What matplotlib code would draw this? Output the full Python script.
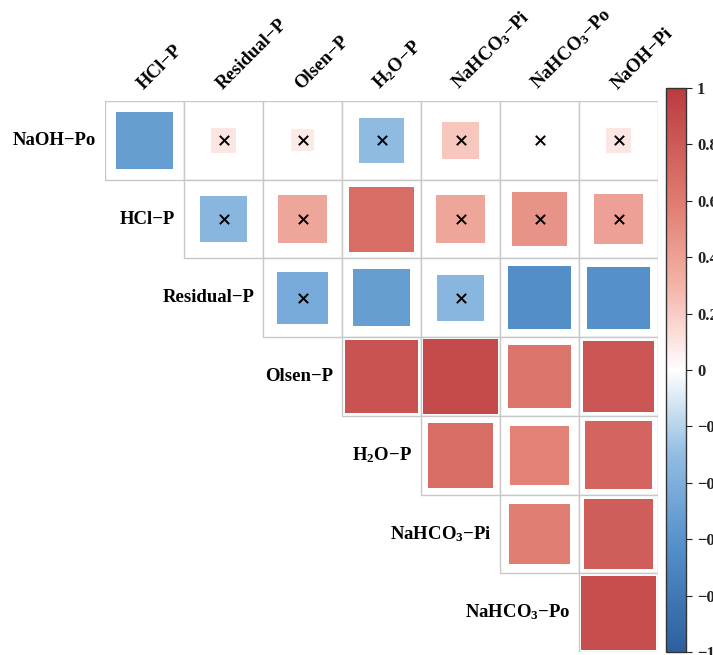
import numpy as np
import matplotlib
matplotlib.use("Agg")
import matplotlib.pyplot as plt
from matplotlib.colors import LinearSegmentedColormap, Normalize
from matplotlib.patches import Rectangle
from matplotlib.cm import ScalarMappable

plt.rcParams['font.family'] = ['Liberation Serif', 'DejaVu Serif']
plt.rcParams['font.weight'] = 'bold'
plt.rcParams['mathtext.fontset'] = 'custom'
plt.rcParams['mathtext.rm'] = 'Liberation Serif:bold'
plt.rcParams['mathtext.it'] = 'Liberation Serif:bold'
plt.rcParams['mathtext.bf'] = 'Liberation Serif:bold'
plt.rcParams['mathtext.default'] = 'rm'

# ---- data ----
col_labels = ["HCl\u2212P", "Residual\u2212P", "Olsen\u2212P", "H$_2$O\u2212P",
              "NaHCO$_3$\u2212Pi", "NaHCO$_3$\u2212Po", "NaOH\u2212Pi"]
row_labels = ["NaOH\u2212Po", "HCl\u2212P", "Residual\u2212P", "Olsen\u2212P",
              "H$_2$O\u2212P", "NaHCO$_3$\u2212Pi", "NaHCO$_3$\u2212Po"]

# row i holds values for columns i..6
vals_naoh_po   = [-0.52, 0.10, 0.08, -0.32, 0.22, 0.03, 0.10]
vals_hcl_p     = [-0.35, 0.37, 0.68, 0.37, 0.47, 0.40]
vals_residual  = [-0.43, -0.52, -0.35, -0.64, -0.62]
vals_olsen     = [0.85, 0.90, 0.64, 0.83]
vals_h2o       = [0.68, 0.56, 0.74]
vals_nahco3_pi = [0.58, 0.78]
vals_nahco3_po = [0.88]

sig_naoh_po   = [True, False, False, False, False, False, False]
sig_hcl_p     = [False, False, True, False, False, False]
sig_residual  = [False, True, False, True, True]
sig_olsen     = [True, True, True, True]
sig_h2o       = [True, True, True]
sig_nahco3_pi = [True, True]
sig_nahco3_po = [True]

rows_vals = [vals_naoh_po, vals_hcl_p, vals_residual, vals_olsen,
             vals_h2o, vals_nahco3_pi, vals_nahco3_po]
rows_sig = [sig_naoh_po, sig_hcl_p, sig_residual, sig_olsen,
            sig_h2o, sig_nahco3_pi, sig_nahco3_po]
cbar_ticks = [1, 0.8, 0.6, 0.4, 0.2, 0, -0.2, -0.4, -0.6, -0.8, -1]

# ---- colormap ----
cmap = LinearSegmentedColormap.from_list("rb", [
    (0.00, "#2d5f9f"),
    (0.20, "#5893cd"),
    (0.35, "#92bde2"),
    (0.50, "#ffffff"),
    (0.65, "#f4b4a8"),
    (0.80, "#e07b70"),
    (1.00, "#bb3b41"),
])
norm = Normalize(-1, 1)

W, H = 713, 655
fig = plt.figure(figsize=(W / 100, H / 100), dpi=100)
ax = fig.add_axes([105 / W, 3 / H, 553 / W, 551 / H])
ax.set_xlim(0, 7)
ax.set_ylim(7, 0)
ax.axis('off')

for i, (vals, sigs) in enumerate(zip(rows_vals, rows_sig)):
    for k, (v, s) in enumerate(zip(vals, sigs)):
        j = i + k
        ax.add_patch(Rectangle((j, i), 1, 1, facecolor='white',
                               edgecolor='#c8c8c8', linewidth=1.0, zorder=1))
        side = np.sqrt(abs(v))
        ax.add_patch(Rectangle((j + 0.5 - side / 2, i + 0.5 - side / 2), side, side,
                               facecolor=cmap(norm(v)), edgecolor='none', zorder=2))
        if not s:
            ax.scatter([j + 0.5], [i + 0.5], marker='x', s=45, color='black',
                       linewidths=1.4, zorder=3)

for j, lab in enumerate(col_labels):
    ax.text(j + 0.52, -0.10, lab, rotation=45, ha='left', va='bottom',
            rotation_mode='anchor', fontsize=13.5, fontweight='bold')

for i, lab in enumerate(row_labels):
    ax.text(i - 0.11, i + 0.5, lab, ha='right', va='center',
            fontsize=13.5, fontweight='bold')

cax = fig.add_axes([666 / W, 3 / H, 20 / W, 564 / H])
sm = ScalarMappable(norm=norm, cmap=cmap)
cb = fig.colorbar(sm, cax=cax, ticks=cbar_ticks)
cb.ax.set_yticklabels([("%g" % t).replace('-', '\u2212') for t in cbar_ticks])
cb.outline.set_linewidth(1.0)
cb.outline.set_edgecolor('#333333')
cb.ax.tick_params(length=4, width=0.8, pad=4, labelsize=12, colors='#222222')
for t in cb.ax.get_yticklabels():
    t.set_fontweight('bold')

fig.savefig("out.png", dpi=100)
